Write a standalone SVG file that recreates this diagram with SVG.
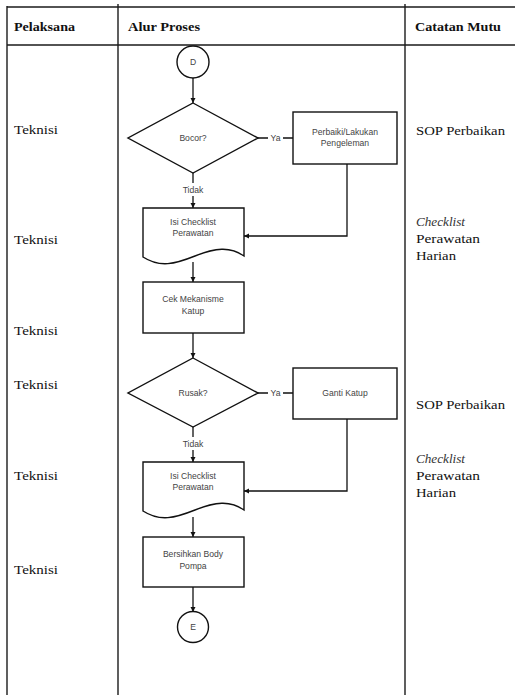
<svg xmlns="http://www.w3.org/2000/svg" width="515" height="695" viewBox="0 0 515 695">
  <style>
    .grid { stroke: #1a1a1a; stroke-width: 1.4; fill: none; }
    .hdr { font-family: "Liberation Serif", "DejaVu Serif", serif; font-size: 12px; font-weight: bold; fill: #111; }
    .cell { font-family: "Liberation Serif", "DejaVu Serif", serif; font-size: 12px; fill: #111; }
    .ital { font-style: italic; fill: #333; }
    .shape { fill: #fff; stroke: #111; stroke-width: 1.4; }
    .lbl { font-family: "Liberation Sans", Arial, sans-serif; font-size: 8.6px; fill: #444; text-anchor: middle; }
    .edge { fill: none; stroke: #111; stroke-width: 1.3; }
  </style>
  <defs>
    <marker id="arr" viewBox="0 0 6 6" refX="6" refY="3" markerWidth="4" markerHeight="4" orient="auto">
      <path d="M0,0 L6,3 L0,6 z" fill="#111"/>
    </marker>
  </defs>

  <rect x="0" y="0" width="515" height="695" fill="#fff"/>

  <!-- table grid -->
  <g id="table">
    <line class="grid" x1="7" y1="7" x2="515" y2="7"/>
    <line class="grid" x1="7" y1="45" x2="515" y2="45"/>
    <line class="grid" x1="7" y1="6" x2="7" y2="695"/>
    <line class="grid" x1="118" y1="4" x2="118" y2="695"/>
    <line class="grid" x1="405" y1="4" x2="405" y2="695"/>
    <text class="hdr" x="14" y="31" textLength="61" lengthAdjust="spacingAndGlyphs">Pelaksana</text>
    <text class="hdr" x="128" y="31" textLength="72" lengthAdjust="spacingAndGlyphs">Alur Proses</text>
    <text class="hdr" x="415" y="31" textLength="86" lengthAdjust="spacingAndGlyphs">Catatan Mutu</text>
  </g>

  <!-- executor column -->
  <g id="pelaksana">
    <text class="cell" x="14" y="134" textLength="44" lengthAdjust="spacingAndGlyphs">Teknisi</text>
    <text class="cell" x="14" y="244" textLength="44" lengthAdjust="spacingAndGlyphs">Teknisi</text>
    <text class="cell" x="14" y="335" textLength="44" lengthAdjust="spacingAndGlyphs">Teknisi</text>
    <text class="cell" x="14" y="389" textLength="44" lengthAdjust="spacingAndGlyphs">Teknisi</text>
    <text class="cell" x="14" y="480" textLength="44" lengthAdjust="spacingAndGlyphs">Teknisi</text>
    <text class="cell" x="14" y="574" textLength="44" lengthAdjust="spacingAndGlyphs">Teknisi</text>
  </g>

  <!-- quality records column -->
  <g id="catatan">
    <text class="cell" x="416" y="135" textLength="89" lengthAdjust="spacingAndGlyphs">SOP Perbaikan</text>
    <text class="cell ital" x="416" y="226" textLength="49" lengthAdjust="spacingAndGlyphs">Checklist</text>
    <text class="cell" x="416" y="243" textLength="64" lengthAdjust="spacingAndGlyphs">Perawatan</text>
    <text class="cell" x="416" y="260" textLength="40" lengthAdjust="spacingAndGlyphs">Harian</text>
    <text class="cell" x="416" y="409" textLength="89" lengthAdjust="spacingAndGlyphs">SOP Perbaikan</text>
    <text class="cell ital" x="416" y="463" textLength="49" lengthAdjust="spacingAndGlyphs">Checklist</text>
    <text class="cell" x="416" y="480" textLength="64" lengthAdjust="spacingAndGlyphs">Perawatan</text>
    <text class="cell" x="416" y="497" textLength="40" lengthAdjust="spacingAndGlyphs">Harian</text>
  </g>

  <!-- connectors -->
  <g id="connectors">
    <path class="edge" d="M193,78 V103" marker-end="url(#arr)"/>
    <path class="edge" d="M258,138 H268 M283,138 H293"/>
    <path class="edge" d="M193,173 V183 M193,196 V208" marker-end="url(#arr)"/>
    <path class="edge" d="M347,164 V236 H244" marker-end="url(#arr)"/>
    <path class="edge" d="M193,262 V282" marker-end="url(#arr)"/>
    <path class="edge" d="M193,333 V358" marker-end="url(#arr)"/>
    <path class="edge" d="M258,393 H268 M283,393 H293"/>
    <path class="edge" d="M193,427 V437 M193,450 V462" marker-end="url(#arr)"/>
    <path class="edge" d="M347,419 V491 H244" marker-end="url(#arr)"/>
    <path class="edge" d="M193,517 V537" marker-end="url(#arr)"/>
    <path class="edge" d="M193,587 V612" marker-end="url(#arr)"/>
    <text class="lbl" x="275.5" y="141">Ya</text>
    <text class="lbl" x="193" y="192.5">Tidak</text>
    <text class="lbl" x="275.5" y="396">Ya</text>
    <text class="lbl" x="193" y="447">Tidak</text>
  </g>

  <g id="start-d">
    <circle class="shape" cx="193" cy="62" r="16"/>
    <text class="lbl" x="193" y="65">D</text>
  </g>

  <g id="bocor">
    <path class="shape" d="M193,103 L258,138 L193,173 L128,138 Z"/>
    <text class="lbl" x="193" y="141">Bocor?</text>
  </g>

  <g id="perbaiki">
    <rect class="shape" x="293" y="112" width="104" height="52"/>
    <text class="lbl" x="345" y="135">Perbaiki/Lakukan</text>
    <text class="lbl" x="345" y="145.5">Pengeleman</text>
  </g>

  <g id="checklist-1">
    <path class="shape" d="M143,208 H244 V256 C230,246 215,248 195,256 C175,264 160,268 143,257 Z"/>
    <text class="lbl" x="193" y="225">Isi Checklist</text>
    <text class="lbl" x="193" y="236">Perawatan</text>
  </g>

  <g id="cek-katup">
    <rect class="shape" x="143" y="282" width="101" height="51"/>
    <text class="lbl" x="193" y="302">Cek Mekanisme</text>
    <text class="lbl" x="193" y="314">Katup</text>
  </g>

  <g id="rusak">
    <path class="shape" d="M193,358 L258,393 L193,427 L128,393 Z"/>
    <text class="lbl" x="193" y="396">Rusak?</text>
  </g>

  <g id="ganti-katup">
    <rect class="shape" x="293" y="368" width="104" height="51"/>
    <text class="lbl" x="345" y="396">Ganti Katup</text>
  </g>

  <g id="checklist-2">
    <path class="shape" d="M143,462 H244 V510 C230,500 215,502 195,510 C175,518 160,522 143,511 Z"/>
    <text class="lbl" x="193" y="479">Isi Checklist</text>
    <text class="lbl" x="193" y="490">Perawatan</text>
  </g>

  <g id="bersihkan">
    <rect class="shape" x="143" y="537" width="101" height="50"/>
    <text class="lbl" x="193" y="557">Bersihkan Body</text>
    <text class="lbl" x="193" y="569">Pompa</text>
  </g>

  <g id="end-e">
    <circle class="shape" cx="193" cy="627" r="15.5"/>
    <text class="lbl" x="193" y="630">E</text>
  </g>
</svg>
